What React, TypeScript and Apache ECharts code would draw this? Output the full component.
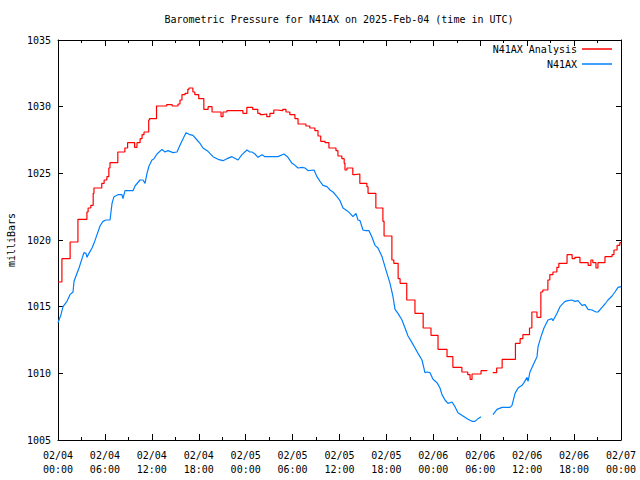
import React, { useEffect, useRef } from "react";
import * as echarts from "echarts";

const TITLE = "Barometric Pressure for N41AX on 2025-Feb-04 (time in UTC)";
const Y_NAME = "milliBars";
const SERIES_NAMES = ["N41AX Analysis", "N41AX"];
const X_TICK_LABELS = [
  "02/04\n00:00", "02/04\n06:00", "02/04\n12:00", "02/04\n18:00",
  "02/05\n00:00", "02/05\n06:00", "02/05\n12:00", "02/05\n18:00",
  "02/06\n00:00", "02/06\n06:00", "02/06\n12:00", "02/06\n18:00",
  "02/07\n00:00",
];

// hours since 02/04 00:00 UTC
const redHours = [
  0.0, 0.5, 1.55, 2.55, 3.7, 3.85, 4.2, 4.5, 4.6, 5.6, 5.9, 6.25, 6.5, 6.65, 7.65,
  8.55, 8.9, 9.8, 10.1, 10.5, 10.75, 11.0, 11.6, 11.7, 12.6, 13.9, 14.6, 15.35, 15.6,
  15.85, 16.25, 16.6, 16.75, 17.25, 17.5, 18.0, 18.65, 19.2, 19.7, 20.85, 21.1, 21.6,
  23.65, 24.15, 24.9, 25.55, 25.85, 26.2, 26.7, 27.1, 27.6, 28.0, 28.75, 29.15, 29.65,
  30.3, 30.7, 31.7, 32.2, 32.85, 33.25, 33.6, 34.15, 34.65, 35.55, 35.8, 36.3, 36.6,
  36.7, 36.95, 37.7, 37.95, 38.6, 39.5, 39.65, 40.65, 41.55, 41.7, 42.7, 42.95, 43.5,
  43.75, 44.6, 45.65, 46.7, 47.7, 48.6, 49.75, 50.5, 51.65, 52.4, 52.7, 52.95, 54.1,
  54.2, 54.9, 55.6, 56.1, 56.8, 58.5, 59.1, 59.45, 60.3, 60.6, 61.25, 61.75, 62.0,
  62.65, 62.9, 63.3, 63.8, 64.05, 65.1, 65.75, 66.1, 66.75, 67.8, 68.15, 68.4, 68.8,
  69.05, 69.95, 70.85, 71.1, 71.5, 71.85, 72.0,
];
const redValues = [
  1016.85, 1018.6, 1019.85, 1021.55, 1022.1, 1022.4, 1022.6, 1023.5, 1023.9, 1024.25,
  1024.5, 1024.75, 1025.4, 1025.8, 1026.6, 1026.9, 1027.3, 1026.95, 1027.3, 1027.6,
  1027.9, 1028.1, 1029.0, 1029.1, 1030.05, 1030.15, 1030.05, 1030.2, 1030.5, 1030.9,
  1031.0, 1031.3, 1031.4, 1031.1, 1030.9, 1030.6, 1029.8, 1030.0, 1029.6, 1029.25,
  1029.6, 1029.7, 1029.5, 1029.95, 1029.8, 1029.5, 1029.4, 1029.45, 1029.25, 1029.5,
  1029.75, 1029.7, 1029.8, 1029.6, 1029.4, 1029.1, 1028.7, 1028.55, 1028.4, 1028.2,
  1027.8, 1027.4, 1027.3, 1026.9, 1026.7, 1026.3, 1026.1, 1025.75, 1025.25, 1025.4,
  1024.9, 1024.95, 1024.25, 1024.0, 1023.5, 1022.4, 1021.4, 1020.3, 1018.5, 1018.25,
  1017.1, 1016.75, 1015.5, 1014.5, 1013.4, 1012.85, 1011.8, 1011.25, 1010.45, 1010.1,
  1009.9, 1009.55, 1009.95, 1010.2, 1010.2, null, 1010.05, 1010.4, 1011.05, 1012.25,
  1012.6, 1012.9, 1013.4, 1014.6, 1014.2, 1016.1, 1016.25, 1017.0, 1017.4, 1017.6,
  1017.95, 1018.25, 1018.9, 1018.6, 1018.7, 1018.3, 1018.1, 1018.5, 1018.3, 1017.9,
  1018.3, 1018.75, 1018.9, 1019.25, 1019.6, 1019.8, 1019.85,
];

const blueHours = [
  0.0, 0.38, 0.64, 1.15, 1.53, 1.92, 2.05, 2.43, 2.69, 3.07, 3.32, 3.58, 3.71, 3.96,
  4.35, 4.6, 4.99, 5.37, 5.75, 6.14, 6.65, 6.91, 7.16, 7.67, 8.18, 8.31, 8.57, 9.59,
  9.85, 10.49, 10.87, 11.13, 11.38, 11.64, 12.02, 12.28, 12.66, 13.3, 13.68, 14.07,
  14.71, 15.22, 15.6, 15.99, 16.37, 16.88, 17.26, 17.78, 18.16, 18.54, 19.18, 19.82,
  20.46, 21.1, 21.61, 22.25, 23.02, 23.53, 24.17, 24.55, 24.81, 25.19, 25.58, 26.09,
  26.47, 28.13, 28.9, 29.41, 29.93, 30.31, 30.69, 31.2, 31.59, 31.97, 32.74, 33.12,
  33.51, 33.89, 34.4, 34.79, 35.17, 35.68, 36.06, 36.45, 36.96, 37.34, 37.72, 38.11,
  38.36, 38.62, 39.0, 39.39, 39.77, 40.16, 40.54, 40.92, 41.44, 41.69, 42.07, 42.46,
  42.84, 43.1, 43.48, 43.99, 44.38, 44.76, 45.27, 45.66, 46.04, 46.55, 46.93, 47.19,
  47.57, 47.96, 48.47, 48.85, 49.11, 49.49, 49.88, 50.39, 50.77, 51.15, 51.79, 52.43,
  52.94, 53.33, 53.71, 54.1, 54.9, 55.63, 56.14, 56.78, 57.8, 58.06, 58.19, 58.45,
  58.83, 59.34, 59.6, 59.98, 60.11, 60.36, 60.75, 61.26, 61.39, 61.77, 62.15, 62.66,
  63.17, 63.3, 63.82, 64.2, 64.84, 65.23, 65.73, 66.12, 66.5, 67.01, 67.4, 67.78,
  68.29, 68.8, 69.06, 69.57, 69.95, 70.34, 70.85, 71.23, 71.61, 72.0,
];
const blueValues = [
  1013.8, 1014.4, 1015.0, 1015.4, 1015.9, 1016.1, 1016.9, 1017.5, 1017.9, 1018.6,
  1019.05, 1019.0, 1018.7, 1019.0, 1019.4, 1019.75, 1020.4, 1021.05, 1021.4, 1021.5,
  1021.5, 1022.75, 1023.25, 1023.4, 1023.4, 1023.1, 1023.7, 1023.7, 1024.05, 1024.5,
  1024.5, 1024.25, 1025.0, 1025.55, 1026.0, 1026.1, 1026.45, 1026.8, 1026.6, 1026.7,
  1026.55, 1026.6, 1027.1, 1027.6, 1028.05, 1027.9, 1027.85, 1027.5, 1027.25, 1026.9,
  1026.65, 1026.25, 1026.05, 1025.95, 1026.1, 1026.25, 1026.0, 1026.4, 1026.75, 1026.6,
  1026.6, 1026.45, 1026.2, 1026.4, 1026.25, 1026.25, 1026.45, 1026.2, 1025.75, 1025.6,
  1025.4, 1025.45, 1025.4, 1025.2, 1025.25, 1024.75, 1024.4, 1024.1, 1024.0, 1023.75,
  1023.6, 1023.25, 1022.95, 1022.4, 1022.2, 1022.0, 1021.75, 1022.0, 1021.5, 1021.45,
  1020.75, 1020.7, 1020.7, 1020.2, 1019.6, 1019.4, 1018.75, 1018.25, 1017.5, 1016.75,
  1015.75, 1014.8, 1014.5, 1014.0, 1013.4, 1012.8, 1012.3, 1011.9, 1011.5, 1011.0,
  1010.05, 1010.1, 1010.05, 1009.55, 1009.3, 1008.9, 1008.4, 1008.0, 1007.75, 1007.85,
  1007.5, 1007.05, 1006.8, 1006.55, 1006.4, 1006.4, 1006.6, 1006.75, null, 1006.9,
  1007.3, 1007.45, 1007.45, 1007.6, 1007.9, 1008.5, 1008.9, 1009.1, 1009.3, 1009.7,
  1009.4, 1010.1, 1010.6, 1011.25, 1012.0, 1012.75, 1013.4, 1014.0, 1014.1, 1013.95,
  1014.5, 1015.0, 1015.4, 1015.45, 1015.5, 1015.4, 1015.45, 1015.1, 1015.15, 1014.8,
  1014.75, 1014.6, 1014.6, 1014.95, 1015.2, 1015.5, 1015.8, 1016.1, 1016.45, 1016.5,
];

const FONT = "DejaVu Sans Mono";

export default function App() {
  const ref = useRef<HTMLDivElement>(null);
  useEffect(() => {
    if (!ref.current) return;
    const chart = echarts.init(ref.current, null, { renderer: "svg" });
    const redData = redHours.map((h, i) => [h, redValues[i]]);
    const blueData = blueHours.map((h, i) => [h, blueValues[i]]);
    const xCommon = {
      type: "value" as const,
      min: 0,
      max: 72,
      interval: 6,
      axisLine: { show: true, onZero: false, lineStyle: { color: "#000", width: 1 } },
      axisTick: { show: true, inside: true, length: 6, lineStyle: { color: "#000" } },
      minorTick: { show: true, splitNumber: 2, length: 3, lineStyle: { color: "#000" } },
      splitLine: { show: false },
      minorSplitLine: { show: false },
    };
    const yCommon = {
      type: "value" as const,
      min: 1005,
      max: 1035,
      interval: 5,
      axisLine: { show: true, onZero: false, lineStyle: { color: "#000", width: 1 } },
      axisTick: { show: true, inside: true, length: 5, lineStyle: { color: "#000" } },
      splitLine: { show: false },
    };
    const legendCommon = {
      right: 28,
      padding: 0,
      align: "right" as const,
      icon: "rect",
      itemWidth: 30,
      itemHeight: 1.5,
      textStyle: { fontFamily: FONT, fontSize: 10, color: "#000" },
    };
    chart.setOption({
      animation: false,
      backgroundColor: "#fff",
      title: {
        text: TITLE,
        left: 339,
        top: 14,
        padding: 0,
        textAlign: "center",
        textStyle: { fontFamily: FONT, fontSize: 10, fontWeight: "normal", color: "#000" },
      },
      legend: [
        { ...legendCommon, data: [SERIES_NAMES[0]], top: 44 },
        { ...legendCommon, data: [SERIES_NAMES[1]], top: 59 },
      ],
      grid: { left: 58, right: 19, top: 40, bottom: 40, outerBoundsMode: "none" },
      xAxis: [
        {
          ...xCommon,
          position: "bottom",
          axisLabel: {
            show: true,
            margin: 8,
            fontFamily: FONT,
            fontSize: 10,
            lineHeight: 14,
            color: "#000",
            formatter: (v: number) => X_TICK_LABELS[Math.round(v / 6)] ?? "",
          },
        },
        { ...xCommon, position: "top", axisLabel: { show: false } },
      ],
      yAxis: [
        {
          ...yCommon,
          position: "left",
          name: Y_NAME,
          nameLocation: "middle",
          nameRotate: 90,
          nameGap: 40,
          nameTextStyle: { fontFamily: FONT, fontSize: 10, color: "#000" },
          axisLabel: {
            show: true,
            margin: 7,
            fontFamily: FONT,
            fontSize: 10,
            color: "#000",
            formatter: (v: number) => String(v),
          },
        },
        { ...yCommon, position: "right", axisLabel: { show: false } },
      ],
      series: [
        {
          name: SERIES_NAMES[0],
          type: "line",
          step: "end",
          data: redData,
          showSymbol: false,
          connectNulls: false,
          color: "#ff0000",
          lineStyle: { color: "#ff0000", width: 1.2 },
        },
        {
          name: SERIES_NAMES[1],
          type: "line",
          data: blueData,
          showSymbol: false,
          connectNulls: false,
          color: "#0080ff",
          lineStyle: { color: "#0080ff", width: 1.2 },
        },
      ],
    });
    return () => chart.dispose();
  }, []);
  return (
    <div
      ref={ref}
      style={{ position: "fixed", left: 0, top: 0, width: 640, height: 480, background: "#fff" }}
    />
  );
}
